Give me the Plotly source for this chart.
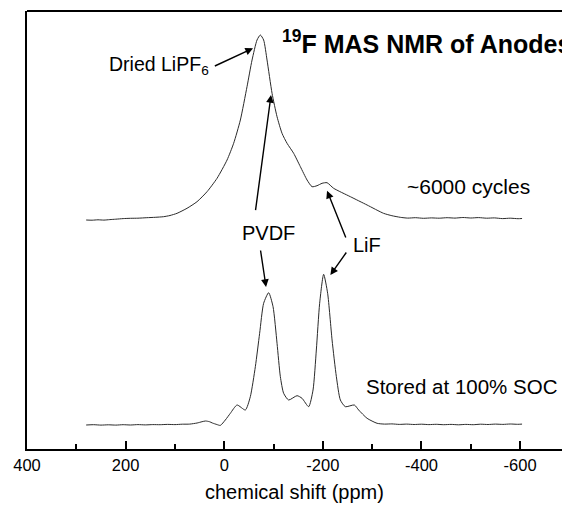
import plotly.graph_objects as go

# Bottom spectrum: "Stored at 100% SOC" (ppm, intensity a.u.)
soc_ppm = [280, 265, 250, 235, 220, 205, 190, 175, 160, 145, 130, 115, 100, 85, 70, 55, 45, 38, 30, 24, 15, 7.9,
           -2.2, -12.4, -26, -42.8, -52.9, -63.1, -71.8, -79.9, -90.1, -99, -107.1, -113.8, -120.5, -130.6,
           -147.7, -157.8, -171.2, -180.1, -186.8, -193.5, -201.6, -209.7, -218.7, -227.4, -235.5, -245.6,
           -263.9, -272.6, -289.7, -310, -325, -340, -355, -370, -385, -400, -415, -430, -445, -460, -475,
           -490, -505, -520, -535, -550, -565, -580, -595, -604]
soc_int = [24, 24.3, 23.9, 24.2, 23.9, 24.3, 24.0, 24.4, 24.1, 24.4, 24.3, 24.6, 24.4, 24.8, 24.9, 26.0, 27.3, 28, 27.3, 26, 24.5, 23.6,
           29, 35.7, 44, 39, 52.3, 82.3, 115.7, 145.7, 156.3, 142.3, 105.7, 72.3, 55.7, 49,
           53.3, 50.7, 42.3, 59, 99, 145.7, 174.7, 155.7, 109, 72.3, 49, 42.3,
           44, 39, 30.7, 25.7, 24.9, 25.1, 24.6, 24.9, 24.5, 24.8, 24.4, 24.7, 24.3, 24.6, 24.2,
           24.6, 24.3, 24.8, 24.5, 24.9, 24.6, 25.0, 24.7, 24.9]

# Top spectrum: "~6000 cycles"
cyc_ppm = [280, 268, 256, 244, 232, 220, 205, 190, 175, 157, 140, 123, 110, 95.7, 75.5, 55.2, 34.9, 14.6, -5.7,
           -19.1, -32.7, -46.2, -56.4, -66.5, -73.2, -79.9, -86.8, -97, -107.1, -117.2, -127.4, -140.8,
           -154.4, -168, -178.1, -188.2, -198.4, -208.5, -221.9, -255.8, -289.7, -323, -340, -357, -372,
           -388, -404, -420, -436, -452, -468, -484, -500, -516, -532, -548, -564, -580, -596, -604]
cyc_int = [229, 228.8, 229.2, 228.9, 229.4, 229.8, 230.4, 230.7, 230.8, 231.3, 231.7, 232.3, 233.5, 235.7, 240.7, 247.3, 257.3, 270.7, 289,
           305.7, 329, 362.3, 389, 409, 414, 409, 389, 355.7, 332.3, 315.7, 305.7, 295.7,
           282.3, 269, 262.3, 263.3, 265.7, 266.3, 260.7, 252.3, 244, 235.7, 233.3, 231.7, 230.9,
           231.3, 230.7, 231.1, 230.8, 231.3, 230.9, 231.5, 231.0, 231.4, 230.8, 231.1, 230.4, 230.8, 230.3, 230.5]

x_ticks = [400, 200, 0, -200, -400, -600]
x_tick_labels = ["400", "200", "0", "-200", "-400", "-600"]

FONT = "Arial, Liberation Sans, sans-serif"
LINE = "#2a2a2a"

fig = go.Figure()
fig.add_trace(go.Scatter(x=soc_ppm, y=soc_int, mode="lines",
                         line=dict(color=LINE, width=1, shape="spline", smoothing=0.6), showlegend=False))
fig.add_trace(go.Scatter(x=cyc_ppm, y=cyc_int, mode="lines",
                         line=dict(color=LINE, width=1, shape="spline", smoothing=0.6), showlegend=False))

texts = [
    dict(x=27, y=384, text="Dried LiPF<sub>6</sub>", xanchor="right", yanchor="middle", size=19.5, bold=False),
    dict(x=-113.8, y=407, text="<sup>19</sup>F MAS NMR of Anodes", xanchor="left", yanchor="middle", size=25, bold=True),
    dict(x=-366, y=263, text="~6000 cycles", xanchor="left", yanchor="middle", size=21, bold=False),
    dict(x=-90, y=216, text="PVDF", xanchor="center", yanchor="middle", size=20, bold=False),
    dict(x=-290, y=204, text="LiF", xanchor="center", yanchor="middle", size=20, bold=False),
    dict(x=-283, y=63, text="Stored at 100% SOC", xanchor="left", yanchor="middle", size=20.5, bold=False),
]
for t in texts:
    fig.add_annotation(x=t["x"], y=t["y"], xref="x", yref="y", text=t["text"], showarrow=False,
                       xanchor=t["xanchor"], yanchor=t["yanchor"],
                       font=dict(family=FONT, size=t["size"], color="black",
                                 weight="bold" if t["bold"] else "normal"))

# axis title as a paper-anchored annotation
fig.add_annotation(x=0.5, y=0, xref="paper", yref="paper", text="chemical shift (ppm)", showarrow=False,
                   xanchor="center", yanchor="top", yshift=-30,
                   font=dict(family=FONT, size=20, color="black"))

arrows = [  # (tip ppm, tip int, tail ppm, tail int)
    (-58.4, 400.7, 22.1, 382.3),
    (-94.9, 354, -63.1, 237.3),
    (-84.8, 162, -73.2, 200),
    (-208.5, 258.3, -247.7, 210),
    (-215.2, 174, -249.7, 198),
]
for tx, ty, sx, sy in arrows:
    fig.add_annotation(x=tx, y=ty, ax=sx, ay=sy, xref="x", yref="y", axref="x", ayref="y",
                       text="", showarrow=True, arrowhead=2, arrowsize=1.1, arrowwidth=1.4,
                       arrowcolor="black", standoff=0)

fig.add_shape(type="line", xref="paper", yref="paper", x0=0, x1=1, y0=1, y1=1,
              line=dict(color="black", width=2))

fig.update_layout(
    width=562, height=508,
    margin=dict(l=27, r=0, t=11, b=59, autoexpand=False),
    paper_bgcolor="white", plot_bgcolor="white",
    font=dict(family=FONT, color="black"),
    xaxis=dict(range=[400, -685], tickvals=x_ticks, ticktext=x_tick_labels, automargin=False,
               ticks="inside", ticklen=8, tickwidth=1.5, tickcolor="black",
               minor=dict(dtick=100, tick0=0, ticks="inside", ticklen=5, tickwidth=1.5, tickcolor="black"),
               showline=True, linecolor="black", linewidth=2, showgrid=False, zeroline=False,
               tickfont=dict(size=16.5, family=FONT)),
    yaxis=dict(range=[0, 438], showline=True, linecolor="black", linewidth=2, showgrid=False,
               zeroline=False, showticklabels=False, ticks="", automargin=False),
)

fig.write_html("out.html", config={"displayModeBar": False},
               post_script="document.body.style.margin='0';document.body.style.overflow='hidden';")
